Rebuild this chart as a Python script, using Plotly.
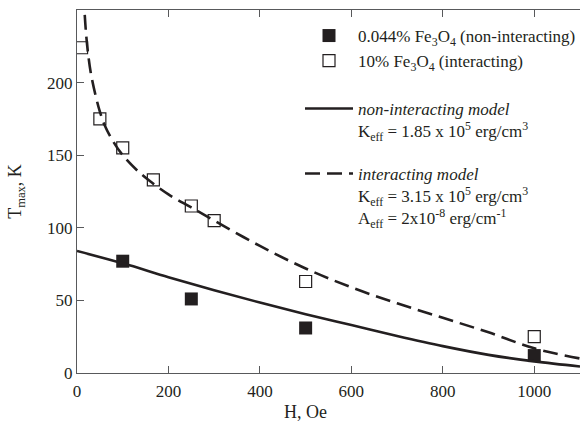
import plotly.graph_objects as go

# Measured blocking temperatures (T_max, K) versus applied field (H, Oe)
h_dilute = [100, 250, 500, 1000]
t_dilute = [77, 51, 31, 12]

h_dense = [10, 50, 100, 167, 250, 300, 500, 1000]
t_dense = [224, 175, 155, 133, 115, 105, 63, 25]

# Model curves
h_model_nonint = [0, 100, 200, 300, 400, 500, 600, 700, 800, 900, 1000, 1100]
t_model_nonint = [84, 75.5, 66, 57, 48.5, 40.5, 33, 25.5, 18.5, 12.5, 8, 4.5]

h_model_int = [14, 20, 25, 30, 40, 50, 60, 80, 100, 130, 160, 200, 250, 300,
               400, 500, 600, 700, 800, 900, 1000, 1100]
t_model_int = [262, 233, 218, 207, 192, 180, 171, 159, 150, 140, 132, 123, 114, 105,
               87.5, 72, 59, 48, 38, 28, 17, 10]

x_ticks = [0, 200, 400, 600, 800, 1000]
y_ticks = [0, 50, 100, 150, 200]

INK = "#231f20"
AXIS = "#58595b"
FONT = "Liberation Serif, Times New Roman, serif"

fig = go.Figure()

fig.add_trace(go.Scatter(
    x=h_dilute, y=t_dilute, mode="markers",
    name="0.044% Fe<sub>3</sub>O<sub>4</sub> (non-interacting)",
    marker=dict(symbol="square", size=13, color=INK),
    legend="legend",
))
fig.add_trace(go.Scatter(
    x=h_dense, y=t_dense, mode="markers",
    name="10% Fe<sub>3</sub>O<sub>4</sub> (interacting)",
    marker=dict(symbol="square-open", size=12, color=INK, line=dict(width=1.2, color=INK)),
    legend="legend",
))
fig.add_trace(go.Scatter(
    x=h_model_nonint, y=t_model_nonint, mode="lines",
    name="<i>non-interacting model</i><br>K<sub>eff</sub> = 1.85 x 10<sup>5</sup> erg/cm<sup>3</sup>",
    line=dict(color=INK, width=2.6, shape="spline"),
    legend="legend2",
))
fig.add_trace(go.Scatter(
    x=h_model_int, y=t_model_int, mode="lines",
    name=("<i>interacting model</i><br>K<sub>eff</sub> = 3.15 x 10<sup>5</sup> erg/cm<sup>3</sup>"
          "<br>A<sub>eff</sub> = 2x10<sup>-8</sup> erg/cm<sup>-1</sup>"),
    line=dict(color=INK, width=2.6, shape="spline", dash="15px,7px"),
    legend="legend3",
))

W, H = 580, 426
LEG_X = 300
legend_common = dict(
    xref="container", yref="container", xanchor="left", yanchor="top",
    bgcolor="rgba(0,0,0,0)", borderwidth=0, valign="top", itemwidth=48,
    font=dict(family=FONT, size=17, color=INK),
)

fig.update_layout(
    width=W, height=H,
    margin=dict(l=77, r=0, t=10, b=53, autoexpand=False),
    plot_bgcolor="white", paper_bgcolor="white",
    font=dict(family=FONT, size=17, color=INK),
    showlegend=True,
    legend=dict(x=LEG_X / W, y=1 - 18 / H, **legend_common),
    legend2=dict(x=LEG_X / W, y=1 - 91 / H, **legend_common),
    legend3=dict(x=LEG_X / W, y=1 - 156 / H, **legend_common),
    xaxis=dict(
        range=[0, 1100], tickvals=x_ticks, ticks="inside", ticklen=7, tickwidth=1,
        tickcolor=AXIS, showline=True, linecolor=AXIS, linewidth=1, mirror="ticks",
        showgrid=False, zeroline=False, ticklabelstandoff=3,
        tickfont=dict(family=FONT, size=17, color=INK),
    ),
    yaxis=dict(
        range=[0, 250], tickvals=y_ticks, ticks="inside", ticklen=7, tickwidth=1,
        tickcolor=AXIS, showline=True, linecolor=AXIS, linewidth=1,
        showgrid=False, zeroline=False, tickfont=dict(family=FONT, size=17, color=INK),
        title=dict(text="T<sub>max</sub>, K", font=dict(family=FONT, size=18, color=INK), standoff=20),
    ),
    annotations=[dict(
        text="H, Oe", xref="paper", yref="paper", x=(305 - 77) / 503, y=-39 / 363,
        xanchor="center", yanchor="middle", showarrow=False,
        font=dict(family=FONT, size=18, color=INK),
    )],
)

fig.write_html("out.html")
